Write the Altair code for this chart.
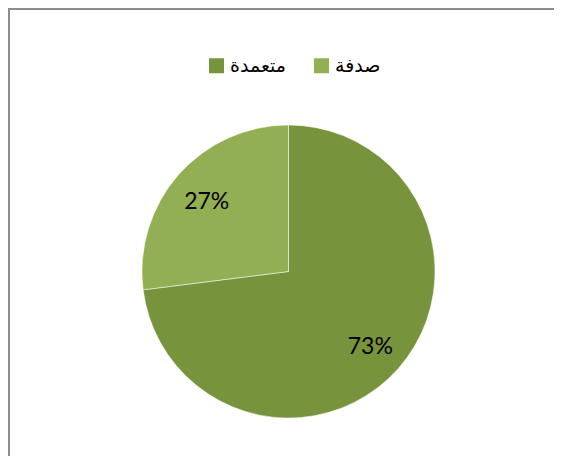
import altair as alt
import pandas as pd

categories = ["متعمدة", "صدفة"]
values = [73, 27]
colors = ["#77933C", "#93AF53"]

df = pd.DataFrame({"category": categories, "value": values, "order": [0, 1]})

W, H = 546, 448
CX, CY = 280.5, 263.5

base = alt.Chart(df).encode(
    theta=alt.Theta("value:Q", stack=True),
    order=alt.Order("order:Q"),
    x=alt.value(CX),
    y=alt.value(CY),
)

arc = base.mark_arc(outerRadius=146.5, stroke="#ffffff", strokeWidth=0.5).encode(
    color=alt.Color(
        "category:N",
        scale=alt.Scale(domain=categories, range=colors),
        sort=categories,
        legend=alt.Legend(
            title=None,
            orient="none",
            legendX=199,
            legendY=48,
            direction="horizontal",
            symbolType="square",
            symbolSize=225,
            symbolStrokeWidth=0,
            symbolOpacity=1,
            labelFont="DejaVu Sans",
            labelFontSize=19,
            labelColor="#000000",
            labelOffset=4,
            columnPadding=26,
        ),
    )
)

text = base.mark_text(radius=109, font="Lato", fontSize=23, color="#000000", dy=3).encode(
    text=alt.Text("label:N")
).transform_calculate(label="datum.value + '%'")

frame_left = alt.Chart(df).mark_rule(stroke="#8c8c8c", strokeWidth=2).encode(
    x=alt.value(1), y=alt.value(0), y2=alt.value(H)
).transform_filter("datum.order == 0")

frame_top = alt.Chart(df).mark_rule(stroke="#8c8c8c", strokeWidth=2).encode(
    x=alt.value(0), x2=alt.value(W), y=alt.value(1)
).transform_filter("datum.order == 0")

chart = (
    alt.layer(frame_left, frame_top, arc, text)
    .properties(width=W, height=H, padding=0, autosize=alt.AutoSizeParams(type="none"))
    .configure_view(strokeWidth=0, strokeOpacity=0)
    .configure(background="#ffffff")
)

chart.save("out.html", embed_options={"renderer": "svg", "actions": False})
